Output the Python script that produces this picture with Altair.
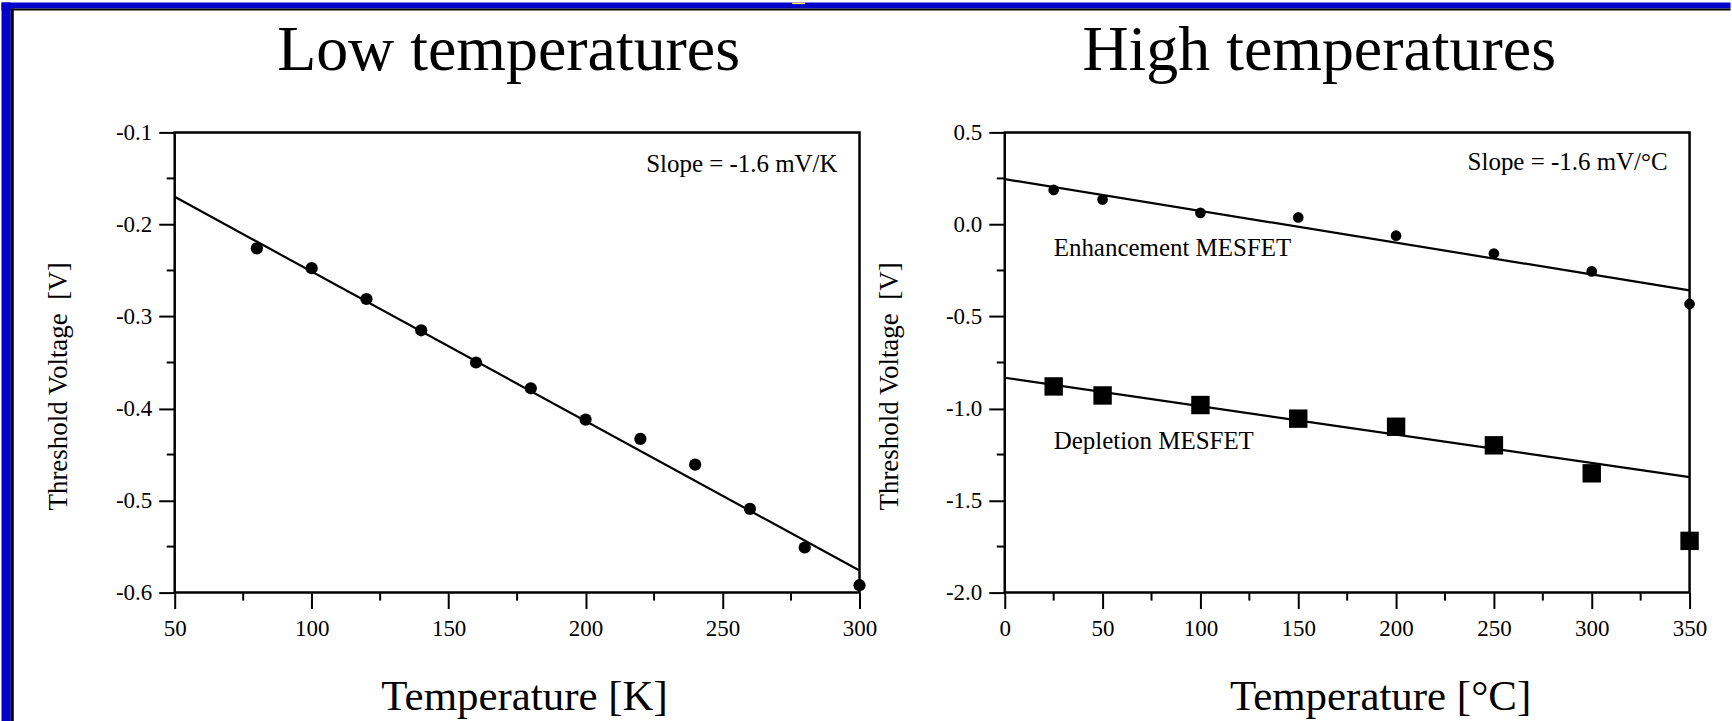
import altair as alt
import pandas as pd

# ---------------- data ----------------
low_T = [80, 100, 120, 140, 160, 180, 200, 220, 240, 260, 280, 300]
low_V = [-0.226, -0.2475, -0.281, -0.315, -0.350, -0.378, -0.412, -0.433, -0.461, -0.509, -0.551, -0.592]
low_fit_T = [50, 300]
low_fit_V = [-0.170, -0.576]

high_T = [25, 50, 100, 150, 200, 250, 300, 350]
enh_V = [0.1875, 0.135, 0.063, 0.038, -0.061, -0.158, -0.255, -0.432]
dep_V = [-0.880, -0.929, -0.981, -1.055, -1.099, -1.200, -1.352, -1.719]
high_fit_T = [0, 350]
enh_fit_V = [0.246, -0.358]
dep_fit_V = [-0.833, -1.373]

low_x_major = [50, 100, 150, 200, 250, 300]
low_x_minor = [75, 125, 175, 225, 275]
low_y_major = [-0.1, -0.2, -0.3, -0.4, -0.5, -0.6]
low_y_minor = [-0.15, -0.25, -0.35, -0.45, -0.55]
high_x_major = [0, 50, 100, 150, 200, 250, 300, 350]
high_x_minor = [25, 75, 125, 175, 225, 275, 325]
high_y_major = [0.5, 0.0, -0.5, -1.0, -1.5, -2.0]
high_y_minor = [0.25, -0.25, -0.75, -1.25, -1.75]

FONT = "Liberation Serif"
W, H = 686, 461
BLUE = "#0000CC"
MINUS_FIX = "replace(format(datum.value, '.1f'), '\u2212', '-')"
Y_TITLE = "Threshold Voltage\u00a0\u00a0[V]"


def x_axis(values, title, title_x):
    return alt.Axis(values=values, format="d", tickSize=16, tickWidth=2, tickColor="black",
                    domain=False, grid=False, labelFont=FONT, labelFontSize=23, labelColor="black",
                    labelPadding=9, labelFlush=False, labelOverlap=False, labelAngle=0,
                    title=title, titleFont=FONT, titleFontSize=43, titleFontWeight="normal",
                    titleColor="black", titleX=title_x, titleY=117, titleAlign="center",
                    titleBaseline="alphabetic")


def y_axis(values, title, title_x):
    return alt.Axis(values=values, labelExpr=MINUS_FIX, tickSize=16, tickWidth=2, tickColor="black",
                    domain=False, grid=False, labelFont=FONT, labelFontSize=23, labelColor="black",
                    labelPadding=7, labelFlush=False, labelOverlap=False,
                    title=title, titleFont=FONT, titleFontSize=27, titleFontWeight="normal",
                    titleColor="black", titleAngle=270, titleX=title_x, titleY=254,
                    titleAlign="center", titleBaseline="middle")


def minor_ticks(xs, ys, xvals, yvals):
    tx = alt.Chart(pd.DataFrame({"T": xvals})).mark_rule(color="black", strokeWidth=2).encode(
        x=alt.X("T:Q", scale=xs), y=alt.value(H), y2=alt.value(H + 8))
    ty = alt.Chart(pd.DataFrame({"V": yvals})).mark_rule(color="black", strokeWidth=2).encode(
        y=alt.Y("V:Q", scale=ys), x=alt.value(-8), x2=alt.value(0))
    return tx, ty


def label(text, x, y, size=25, align="left"):
    return alt.Chart(pd.DataFrame({"a": [0]})).mark_text(
        text=text, font=FONT, fontSize=size, color="black", align=align, baseline="alphabetic"
    ).encode(x=alt.value(x), y=alt.value(y))


def rect(x, x2, y, y2, color):
    return alt.Chart(pd.DataFrame({"a": [0]})).mark_rect(color=color, opacity=1).encode(
        x=alt.value(x), x2=alt.value(x2), y=alt.value(y), y2=alt.value(y2))


# ---------------- left panel ----------------
lxs = alt.Scale(domain=[50, 300], nice=False, zero=False)
lys = alt.Scale(domain=[-0.6, -0.1], nice=False, zero=False)

low_df = pd.DataFrame({"T": low_T, "V": low_V})
low_fit = pd.DataFrame({"T": low_fit_T, "V": low_fit_V})

l_line = alt.Chart(low_fit).mark_line(color="black", strokeWidth=2.2).encode(
    x=alt.X("T:Q", scale=lxs, axis=x_axis(low_x_major, "Temperature [K]", 350)),
    y=alt.Y("V:Q", scale=lys, axis=y_axis(low_y_major, Y_TITLE, -116)),
)
l_pts = alt.Chart(low_df).mark_circle(color="black", size=150, opacity=1).encode(
    x=alt.X("T:Q", scale=lxs), y=alt.Y("V:Q", scale=lys))
l_tx, l_ty = minor_ticks(lxs, lys, low_x_minor, low_y_minor)

# frame pieces (relative to left plot origin at canvas 173.5,130)
OX, OY = 173.5, 130
frame = [
    rect(-OX, 1732 - OX, -OY, -OY + 6, BLUE),
    rect(-OX, 1732 - OX, -OY + 6, -OY + 8, "black"),
    rect(-OX, -OX + 9.3, -OY, 721 - OY, BLUE),
    rect(-OX + 9.3, -OX + 12.3, -OY + 6, 721 - OY, "black"),
    rect(792 - OX, 805 - OX, -OY, -OY + 1.5, "#FFEE66"),
]

left = alt.layer(
    l_line, l_pts, l_tx, l_ty,
    *frame,
    label("Low temperatures", 334.5, -63, size=64, align="center"),
    label("Slope = -1.6 mV/K", 664, 40, align="right"),
).properties(width=W, height=H)

# ---------------- right panel ----------------
rxs = alt.Scale(domain=[0, 350], nice=False, zero=False)
rys = alt.Scale(domain=[-2.0, 0.5], nice=False, zero=False)

enh_df = pd.DataFrame({"T": high_T, "V": enh_V})
dep_df = pd.DataFrame({"T": high_T, "V": dep_V})
enh_fit = pd.DataFrame({"T": high_fit_T, "V": enh_fit_V})
dep_fit = pd.DataFrame({"T": high_fit_T, "V": dep_fit_V})

r_enh_line = alt.Chart(enh_fit).mark_line(color="black", strokeWidth=2.2).encode(
    x=alt.X("T:Q", scale=rxs, axis=x_axis(high_x_major, "Temperature [\u00b0C]", 376)),
    y=alt.Y("V:Q", scale=rys, axis=y_axis(high_y_major, Y_TITLE, -115)),
)
r_dep_line = alt.Chart(dep_fit).mark_line(color="black", strokeWidth=2.2).encode(
    x=alt.X("T:Q", scale=rxs), y=alt.Y("V:Q", scale=rys))
r_enh_pts = alt.Chart(enh_df).mark_circle(color="black", size=115, opacity=1).encode(
    x=alt.X("T:Q", scale=rxs), y=alt.Y("V:Q", scale=rys))
r_dep_pts = alt.Chart(dep_df).mark_square(color="black", size=340, opacity=1).encode(
    x=alt.X("T:Q", scale=rxs), y=alt.Y("V:Q", scale=rys))
r_tx, r_ty = minor_ticks(rxs, rys, high_x_minor, high_y_minor)

right = alt.layer(
    r_enh_line, r_dep_line, r_enh_pts, r_dep_pts, r_tx, r_ty,
    label("High temperatures", 315, -63, size=64, align="center"),
    label("Slope = -1.6 mV/\u00b0C", 664, 38, align="right"),
    label("Enhancement MESFET", 49, 124),
    label("Depletion MESFET", 49, 317),
).properties(width=W, height=H)

chart = alt.hconcat(left, right, spacing=145.5, bounds="flush").properties(
    padding=0, background="white"
).configure_view(stroke="black", strokeWidth=2.5)

chart.save("out.html", embed_options={"renderer": "svg", "actions": False})
